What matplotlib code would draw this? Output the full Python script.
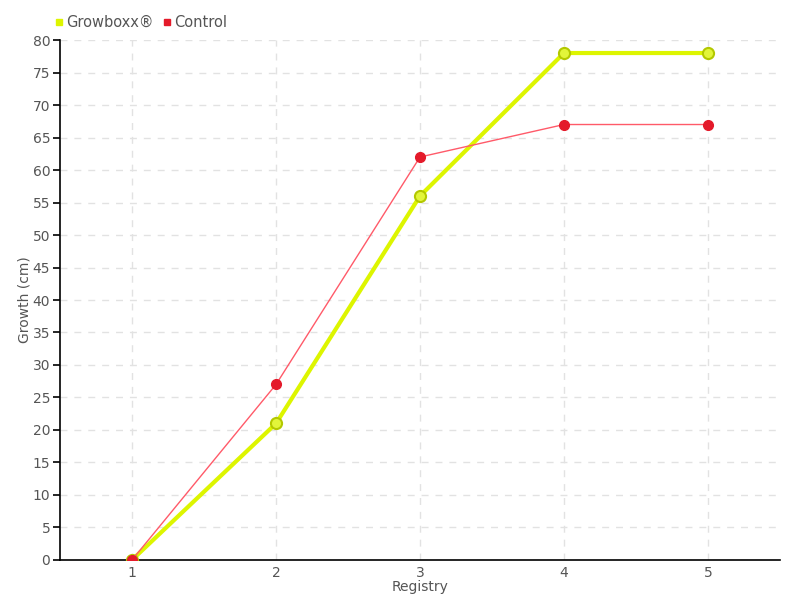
import matplotlib
matplotlib.use("Agg")
import matplotlib.pyplot as plt
from matplotlib.lines import Line2D

registry = [1, 2, 3, 4, 5]
growboxx = [0, 21, 56, 78, 78]
control = [0, 27, 62, 67, 67]
y_ticks = list(range(0, 81, 5))

TEXT = "#555555"

fig = plt.figure(figsize=(8, 6), dpi=100)
ax = fig.add_axes([0.075, 0.0667, 0.9, 0.8666])

ax.plot(registry, growboxx, color="#ddf500", linewidth=3, marker="o", markersize=8,
        markerfacecolor="#e2f53a", markeredgecolor="#b3c800", markeredgewidth=1.5, zorder=3)
ax.plot(registry, control, color="#ff5a69", linewidth=1, marker="o", markersize=7,
        markerfacecolor="#e41a2a", markeredgecolor="#e41a2a", zorder=4)

ax.set_xlim(0.5, 5.5)
ax.set_ylim(0, 80)
ax.set_xticks(registry)
ax.set_yticks(y_ticks)
ax.grid(True, color="#e2e2e2", linestyle=(0, (5, 5)), linewidth=1)
ax.set_axisbelow(True)
ax.spines[["top", "right"]].set_visible(False)
ax.spines[["left", "bottom"]].set_linewidth(1.2)
ax.tick_params(axis="y", length=5, width=1.2, colors="black", labelcolor=TEXT, labelsize=10, pad=2)
ax.tick_params(axis="x", length=0, labelcolor=TEXT, labelsize=10, pad=4)
ax.set_xlabel("Registry", color=TEXT, fontsize=10, labelpad=0)
ax.set_ylabel("Growth (cm)", color=TEXT, fontsize=10, labelpad=1)

handles = [
    Line2D([], [], linestyle="none", marker="s", markersize=5, color="#ddf500"),
    Line2D([], [], linestyle="none", marker="s", markersize=5, color="#e41a2a"),
]
fig.legend(handles, ["Growboxx®", "Control"], loc="upper left", bbox_to_anchor=(0.052, 0.997),
           ncol=2, frameon=False, fontsize=10.5, labelcolor=TEXT, handlelength=0.6,
           handletextpad=0.2, columnspacing=0.6)

fig.savefig("out.png", dpi=100)
